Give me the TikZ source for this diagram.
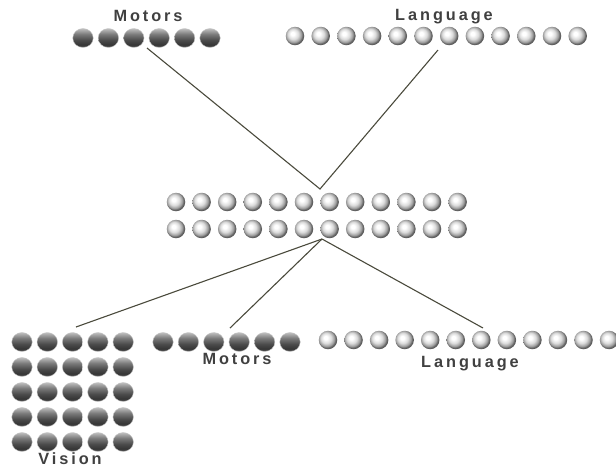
\documentclass[tikz,border=0pt]{standalone}
\usepackage{fontspec}
\setmainfont{Liberation Sans}
\usetikzlibrary{shapes.geometric}
\definecolor{linkc}{HTML}{4A4A3C}
\definecolor{labc}{HTML}{404040}
\pgfdeclareradialshading{lightball}{\pgfpoint{-7bp}{7bp}}{color(0bp)=(white); color(5bp)=(white); color(14bp)=(black!14); color(21bp)=(black!38); color(25bp)=(black!64); color(50bp)=(black!64)}
\pgfdeclareverticalshading{darkball}{100bp}{color(0bp)=(black!55); color(25bp)=(black!55); color(31bp)=(black!80); color(45bp)=(black!70); color(60bp)=(black!52); color(75bp)=(black!25); color(100bp)=(black!25)}
\begin{document}
\begin{tikzpicture}[x=1pt,y=-1pt,
  lsph/.style={circle,minimum size=18.5pt,inner sep=0pt,shading=lightball},
  dsph/.style={ellipse,minimum width=20.5pt,minimum height=19pt,inner sep=0pt,shading=darkball,draw=black!22,line width=0.4pt},
  lbl/.style={font=\fontsize{16.3}{16.3}\selectfont\bfseries\addfontfeature{LetterSpace=18}, text=labc, inner sep=0pt},
  link/.style={draw=linkc,line width=1.1pt}]
\useasboundingbox (0,0) rectangle (616,467);
% connector end points
\coordinate (tmout) at (147,48);
\coordinate (tlout) at (438,50);
\coordinate (hubin) at (320,189);
\coordinate (hubout) at (322,239);
\coordinate (vin) at (76,327);
\coordinate (bmin) at (230,328);
\coordinate (blin) at (483,328);
\draw[link] (tmout) -- (hubin) -- (tlout);
\draw[link] (hubout) -- (vin);
\draw[link] (hubout) -- (bmin);
\draw[link] (hubout) -- (blin);
% top motors
\foreach \i in {1,...,6} \node[dsph] (tm\i) at ({83+25.4*(\i-1)},38) {};
\node[lbl] (tmlab) at (148,16) {Motors};
% top language
\foreach \i in {1,...,12} \node[lsph] (tl\i) at ({295+25.7*(\i-1)},36) {};
\node[lbl] (tllab) at (444,17) {Language};
% hidden layer
\foreach \i in {1,...,12} {
  \node[lsph] (ha\i) at ({176+25.6*(\i-1)},202) {};
  \node[lsph] (hb\i) at ({176+25.6*(\i-1)},229) {};
}
% vision
\foreach \r in {1,...,5} \foreach \c in {1,...,5}
  \node[dsph] (v\r\c) at ({22+25.3*(\c-1)},{342+25*(\r-1)}) {};
\node[lbl] (vlab) at (70,459) {Vision};
% bottom motors
\foreach \i in {1,...,6} \node[dsph] (bm\i) at ({163+25.4*(\i-1)},342) {};
\node[lbl] (bmlab) at (237,359) {Motors};
% bottom language
\foreach \i in {1,...,12} \node[lsph] (bl\i) at ({328+25.55*(\i-1)},340) {};
\node[lbl] (bllab) at (470,363.5) {Language};
\end{tikzpicture}
\end{document}
